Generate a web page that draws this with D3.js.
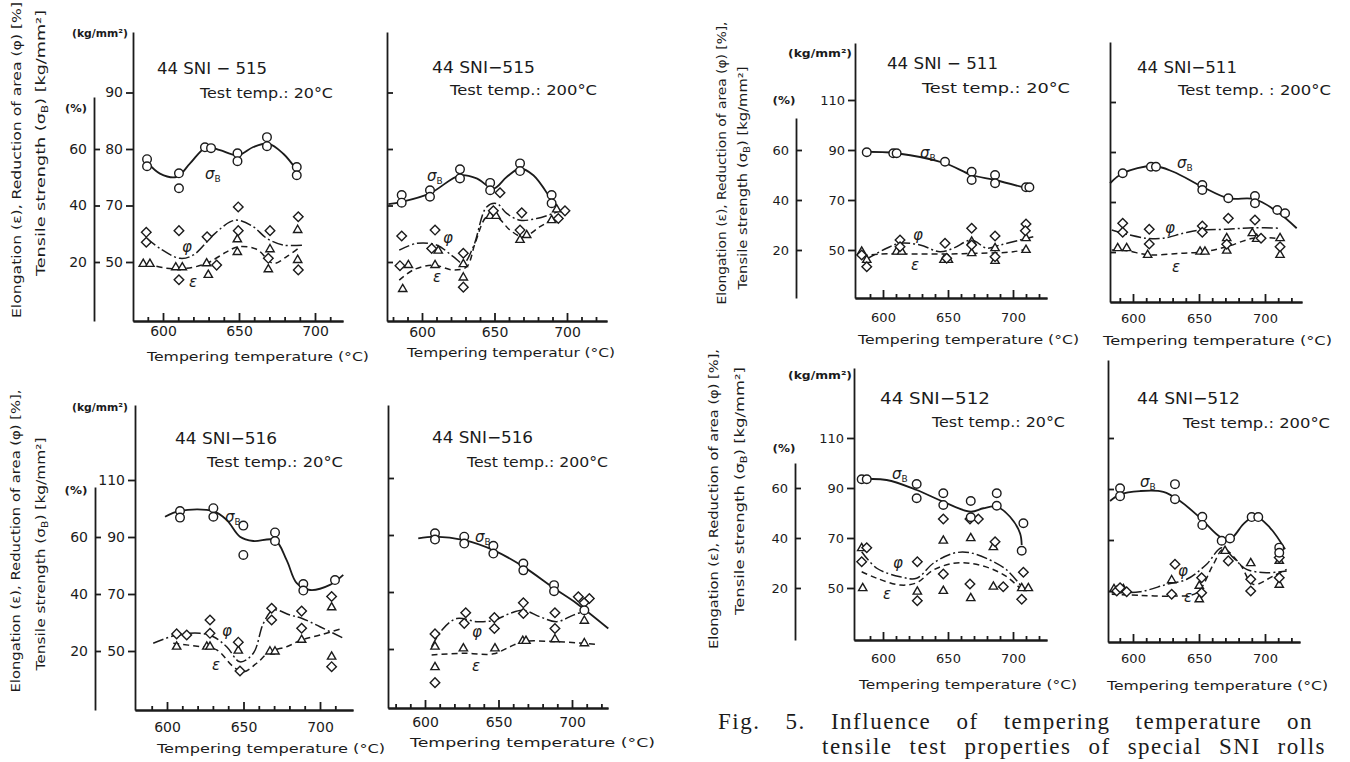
<!DOCTYPE html>
<html>
<head>
<meta charset="utf-8">
<script src="https://cdn.jsdelivr.net/npm/d3@7"></script>
<style>
  body { margin: 0; background: #fff; }
  svg { display: block; background: #fff; }
  text { font-family: "DejaVu Sans", "Liberation Sans", sans-serif; fill: #1b1b1b; }
  .axis path, .axis line { stroke: #1b1b1b; stroke-width: 1.8px; }
  .axis text { font-size: 14px; }
  .small .axis text { font-size: 13px; }
  .head { font-size: 16px; }
  .test { font-size: 14px; }
  .xtitle { font-size: 13px; }
  .ytitle { font-size: 13px; }
  .unit { font-size: 10px; font-weight: bold; }
  .sym { font-size: 15px; font-style: italic; }
  .sub { font-size: 9px; font-style: normal; }
  .sig { fill: none; stroke: #1b1b1b; stroke-width: 1.8px; }
  .phi { fill: none; stroke: #1b1b1b; stroke-width: 1.5px; stroke-dasharray: 11 3 2 3; }
  .eps { fill: none; stroke: #1b1b1b; stroke-width: 1.5px; stroke-dasharray: 6 4; }
  .mk { fill: #fff; stroke: #1b1b1b; stroke-width: 1.4px; }
  .caption { font-family: "Liberation Serif", "DejaVu Serif", serif; font-size: 23px; letter-spacing: 1.5px; }
</style>
</head>
<body>
<svg id="fig" width="1350" height="762"></svg>
<script>
// tick values shared by all panels
const kgTicks = [50, 70, 90, 110];
const pctTicks = [20, 40, 60];
const tempTicks = [600, 650, 700];
const kgLabels515 = ["50", "70", "80", "90"];
const kgLabels = ["50", "70", "90", "110"];

// [tempering temp (°C), value]; sigma in kg/mm2, phi and eps in %
// 44 SNI-515, test 20°C
const s515_20 = [[589.5,86.4],[589.5,83.9],[610.5,81.4],[610.5,76.1],[627.6,90.6],[631.6,90.3],[649,88.5],[649,85.7],[668.4,94.2],[668.4,91],[688,83.6],[688,80.7]];
const p515_20 = [[589,30.5],[589,27],[610.5,31.1],[610.5,13.7],[629,28.9],[635.3,18.9],[649.5,39.5],[649.5,31.1],[670.4,31.1],[669.3,21.3],[689,36],[689,17.2]];
const e515_20 = [[587,19.3],[591.4,19.3],[608.4,18.1],[612.7,18.1],[628.7,19.5],[629.8,15.4],[648.9,28],[648.9,23.5],[670.4,24.5],[669.3,17.4],[688.6,31.3],[688.6,20.7]];
const cs515_20 = [[590.3,84.9],[598,81.3],[609,80.1],[617.8,84.9],[628.7,90.7],[637.5,89.6],[649.5,87.8],[659.4,90.7],[669.3,91.9],[679,88.4],[688,82.5]];
const cp515_20 = [[589.3,28.4],[598,24.8],[611.2,21.3],[620,22.5],[633,29.5],[644.1,34.2],[649.5,34.8],[659.4,32.5],[668.2,28.4],[679.1,26],[692.3,26]];
const ce515_20 = [[589.3,19.3],[602.4,17.8],[615.6,17.8],[628.7,19.5],[641.9,23.6],[649.5,25.4],[661.6,24.5],[672.6,19.5],[681.4,21.9],[689,24.8]];

// 44 SNI-515, test 200°C
const s515_200 = [[586,73.7],[586,71],[605.5,75.4],[605.5,73.1],[626.2,82.8],[626.2,79.6],[647,78],[647,75.4],[667.6,84.9],[667.6,82.2],[689.4,73.7],[689.4,70.8]];
const p515_200 = [[586,29.2],[584.8,18.7],[609,31.3],[606.7,24.8],[628.5,23.1],[628.5,11.1],[653.8,44.5],[649.2,38.1],[668.8,37.4],[667.6,31.3],[694,35.4],[698.6,38.1]];
const e515_200 = [[590.6,18.9],[586.7,10.4],[611.2,24],[609,18.9],[628.5,19.2],[628.5,14.5],[647,36.3],[651,36.3],[667.6,27.8],[672.2,29.5],[689.4,34.8],[692.9,38.6]];
const cs515_200 = [[576.8,70.5],[586,71.3],[605.5,74.3],[626.2,80.7],[637.7,79.6],[649.2,76],[658.4,80.1],[667.6,83.1],[676.8,80.7],[689.4,71.9],[694,68.4]];
const cp515_200 = [[584.3,24.2],[596.3,26.6],[610.1,26],[621.6,21.9],[628.5,19.5],[635.4,25.4],[644.6,39.5],[651.5,40.7],[658.4,37.2],[667.6,34.8],[679.1,35.4],[690.6,37.2],[699.8,39]];
const ce515_200 = [[584.3,13.6],[594,17.2],[607.8,18.9],[621.6,17.2],[630.8,18.3],[636.6,26.6],[644.6,36],[651.5,36],[660.7,31.3],[669.9,28.9],[681.4,32.5],[692.9,36]];

// 44 SNI-516, test 20°C
const s516_20 = [[608.5,99.1],[608.5,96.8],[630.3,100.1],[630.3,97.1],[649.9,94],[649.9,83.7],[670.6,91.6],[670.6,88.6],[689.1,73.5],[689.1,71.2],[709.8,74.9]];
const p516_20 = [[606.3,26],[612.9,25.6],[628.1,30.9],[628.1,26.2],[646.6,23.1],[647.7,13],[668.4,35],[668.4,30.9],[688,34],[688,28],[707.6,39.1],[707.6,14.5]];
const e516_20 = [[606.3,21.5],[626,21.5],[628.1,21.5],[646.6,20.1],[667.3,19.8],[670.6,19.8],[688,23.9],[707.6,35.3],[707.6,18]];
const cs516_20 = [[598.7,97.1],[608.5,99.2],[630.3,99.1],[639,96],[647.7,90.1],[656.4,88.6],[670.6,88.9],[678.2,81.9],[684.8,73.8],[693.5,71.4],[706.5,73.2],[715.2,76.7]];
const cp516_20 = [[591,22.7],[606.3,25.6],[621.6,26.2],[630.3,25],[639,21.5],[647.7,16.2],[656.4,19.2],[663,29.7],[669.5,34.4],[680.4,32.6],[688,31.5],[700,28.5],[715.2,24.5]];
const ce516_20 = [[604.1,22.7],[621.6,21.5],[632.5,20.4],[643.3,14.5],[649.9,12.7],[658.6,15.7],[667.3,19.8],[678.2,21.5],[688,23.9],[700,25.6],[715.2,28]];

// 44 SNI-516, test 200°C
const s516_200 = [[606.8,90.6],[606.8,88.4],[626.7,89.4],[626.7,87],[646.5,86.2],[646.5,83.5],[666.9,80],[666.9,77.6],[687.8,72.4],[687.8,70.3],[708.4,63.6]];
const p516_200 = [[606.8,25.3],[606.8,8.2],[627.7,32.7],[626.7,29],[647.2,31],[647.2,27.2],[666.9,36.2],[666.9,32.5],[688.4,32.7],[688.4,27.2],[704.3,38.3],[711.8,37.7],[708.2,36.2]];
const e516_200 = [[606.8,20.8],[606.8,13.6],[626.1,20.2],[647.6,20.2],[666.5,22.8],[668.7,22.8],[688.4,23.4],[708.4,29.9],[708.4,22]];
const cs516_200 = [[595.4,88.8],[606.8,89.4],[626.7,88.2],[646.5,84.7],[666.9,78.9],[687.8,71.3],[703.2,66],[724.7,57.2]];
const cp516_200 = [[604.5,20.8],[611.4,26.6],[621.6,30.7],[635.2,29.6],[647,30.1],[657.8,32.5],[666.9,33.6],[678.2,31.3],[689.6,29.6],[700.9,31.9],[710,33.6]];
const ce516_200 = [[604.5,17.9],[626.1,18.5],[646.5,18.3],[657.8,20.8],[666.9,22.6],[688.4,22.6],[708.2,22],[715.6,21.7]];

// 44 SNI-511, test 20°C
const s511_20 = [[587.5,89.1],[607.9,88.7],[610.5,88.7],[647.7,85.3],[668.2,81.3],[668.2,78],[686.2,80],[686.2,76.7],[710,75.1],[712.6,75.1]];
const p511_20 = [[583.6,18],[587.5,13.3],[613.1,24],[613.1,21.3],[647.7,22.7],[649,16.7],[668.2,28.7],[668.2,22],[686.2,25.6],[686.2,17.3],[710,30.4],[709.5,27.7]];
const e511_20 = [[583.6,19.3],[587.5,16],[610.5,19.3],[614.4,19.3],[646.9,16],[650.3,16],[668.2,23.3],[668.2,18.7],[686.2,20.7],[686.2,15.6],[710,24.7],[710,20]];
const cs511_20 = [[584.9,89.3],[610.5,88.7],[647.7,84.7],[668.2,80],[686.2,78],[713.1,74.3]];
const cp511_20 = [[586.2,16],[602.8,20.7],[613.1,22.7],[628.5,22],[643.8,19.3],[654.1,20.7],[668.2,24],[679.8,20.7],[690,22],[705.4,24],[715.6,25.3]];
const ce511_20 = [[583.6,17.6],[597.7,18.4],[623.3,18.4],[649,18.4],[674.6,18.7],[700.3,19.3],[713.1,20.7]];

// 44 SNI-511, test 200°C
const s511_200 = [[592.2,81.5],[613.6,84.1],[617.4,84.1],[652.5,76.8],[652.5,74.8],[672.2,71.5],[692.4,72.4],[692.4,69.5],[709.3,66.8],[715.2,65.5]];
const p511_200 = [[592.2,31.5],[592.2,27.9],[612.3,29.1],[612.3,23.2],[652.5,30.4],[652.5,27.9],[672.2,33.5],[671,23.1],[692.4,32.8],[697,25.5],[711.4,22.1]];
const e511_200 = [[588.4,21.5],[595.2,21.5],[611.1,18.8],[650.8,20.1],[654.5,20.1],[671,25.5],[671,20.5],[690.4,27.5],[693.7,25.2],[711.4,25.5],[711.4,18.8]];
const cs511_200 = [[582.6,77.5],[592.2,81.5],[615.4,84.4],[630.5,82.1],[652.5,76.1],[672.2,71.5],[692.4,71.1],[709.3,66.1],[724,59.5]];
const cp511_200 = [[583.9,28.8],[592.2,27.5],[610.4,25.5],[623,25.5],[638.1,27.5],[650.8,28.8],[671,29.1],[691.1,29.7],[711.4,29.5]];
const ce511_200 = [[583.9,20.8],[595.2,20.5],[612.9,18.8],[635.6,19.5],[653.3,20.1],[671,22.1],[691.1,25.5],[708.6,25.5]];

// 44 SNI-512, test 20°C
const s512_20 = [[583.6,93.5],[587.5,93.5],[625.9,91.6],[625.9,85.9],[646.4,87.9],[646.4,83.2],[667.5,84.8],[667.5,78.3],[687.5,87.9],[687.5,82.9],[708,75.9],[706.7,64.9]];
const p512_20 = [[587.5,36.1],[583.6,30.5],[626.4,30.5],[626.4,14.9],[646.4,47.6],[646.4,25.6],[666.9,47.6],[673.3,47.6],[686.2,38.5],[666.9,21.6],[692.5,20.5],[708,26.3],[706.7,15.5]];
const e512_20 = [[583.6,35.9],[584.4,19.9],[626.4,18.5],[646.4,38.9],[646.4,18.8],[667.5,39.9],[667.5,15.9],[684.9,36.3],[684.9,20.5],[706.7,19.9],[711.8,19.9]];
const cs512_20 = [[584.9,93.5],[602.8,93.2],[625.9,89.2],[646.4,84.5],[667.5,80.5],[677.2,81.9],[687.5,82.5],[697.7,78.5],[705.4,71.9],[706.7,67.2]];
const cp512_20 = [[583.6,34.5],[595.2,27.9],[613.1,24.5],[625.9,23.9],[638.7,29.9],[654.1,33.9],[666.9,34.1],[682.3,31.2],[695.2,27.2],[706.7,20.5]];
const ce512_20 = [[583.6,26.5],[595.2,23.9],[613.1,21.2],[625.9,22.1],[638.7,27.2],[654.1,29.9],[666.9,29.9],[682.3,27.9],[695.2,24.5],[705.4,19.9]];

// 44 SNI-512, test 200°C
const s512_200 = [[590.2,90.3],[590.2,87.2],[631.8,91.9],[631.8,86],[652.5,79.1],[652.5,75.9],[667.2,69.7],[673.5,70.6],[689.9,79],[694.9,79],[710.8,67],[710.8,65]];
const p512_200 = [[587.7,20],[595.2,19.7],[590.2,21.3],[631.8,30.5],[629.3,18.7],[652,25.2],[652,19.3],[672.2,31.8],[689.2,24.6],[689.2,20],[710.8,33.1],[710.8,25.2]];
const e512_200 = [[585.6,20.7],[592.7,20.7],[629.3,24.2],[650.2,16.7],[650.2,22],[669.7,35.7],[689.2,30.9],[710.8,31.8],[710.8,22.4]];
const cs512_200 = [[582.6,85.3],[590.2,87.9],[605.3,89.2],[623,88.9],[635.6,85.3],[650.8,78.7],[667.2,70.9],[674.8,70.9],[683.6,76.2],[692.4,79.4],[703.8,74.8],[715.2,66.4]];
const cp512_200 = [[583.9,19.3],[605.3,19.7],[625.5,22.6],[640.7,24.6],[655.8,30.5],[667.2,37],[676,33.1],[686.1,28.5],[701.3,27.2],[716.4,27.8]];
const ce512_200 = [[583.9,18.7],[605.3,18.3],[630.5,18],[648.3,19.3],[660.9,30.5],[668.4,36.4],[681.1,30.5],[691.1,22.6],[706.3,25.9],[716.4,28.5]];

const yTitle1 = "Elongation (ε), Reduction of area (φ) [%],";
const captionLine1 = ["Fig.", "5.", "Influence", "of", "tempering", "temperature", "on"];
const captionLine2 = ["tensile", "test", "properties", "of", "special", "SNI", "rolls"];

// page layout of the eight panels
const panels = [
  { sig: s515_20, phi: p515_20, eps: e515_20, sigC: cs515_20, phiC: cp515_20, epsC: ce515_20,
    x600: 163, x700: 315, left: 133, right: 343, base: 321, top: 32, y20: 262, y60: 149,
    kgLabels: kgLabels515, pctX: 94, pctTop: 97, kgUnit: [100, 33, 56], pctUnit: [76, 108, 22],
    yt: [16, 160, 316, 40, 143, 266], yText: "Elongation (ε), Reduction of area (φ) [%]",
    xLabY: 331, xTitle: [147, 356, 222, "Tempering  temperature (°C)"],
    head: [157, 68, 110, "44 SNI − 515"], test: [200, 93, 133, "Test temp.: 20°C"],
    sigLab: [205, 174], phiLab: [187, 247], epsLab: [193, 282] },
  { sig: s515_200, phi: p515_200, eps: e515_200, sigC: cs515_200, phiC: cp515_200, epsC: ce515_200,
    x600: 422, x700: 567, left: 387, right: 607, base: 321, top: 32, y20: 262, y60: 149,
    xLabY: 332, xTitle: [407, 352, 208, "Tempering temperatur (°C)"],
    head: [432, 67, 103, "44 SNI−515"], test: [450, 90, 147, "Test temp.: 200°C"],
    sigLab: [427, 176], phiLab: [448, 238], epsLab: [437, 277] },
  { sig: s516_20, phi: p516_20, eps: e516_20, sigC: cs516_20, phiC: cp516_20, epsC: ce516_20,
    x600: 167, x700: 320, left: 135, right: 353, base: 710, top: 405, y20: 651, y60: 537,
    kgLabels: kgLabels, pctX: 95, pctTop: 487, kgUnit: [100, 407, 56], pctUnit: [76, 490, 23],
    yt: [15, 541, 303, 40, 554, 233], yText: yTitle1,
    xLabY: 727, xTitle: [157, 748, 228, "Tempering  temperature (°C)"],
    head: [175, 438, 102, "44 SNI−516"], test: [207, 462, 136, "Test temp.: 20°C"],
    sigLab: [225, 517], phiLab: [227, 631], epsLab: [216, 665] },
  { sig: s516_200, phi: p516_200, eps: e516_200, sigC: cs516_200, phiC: cp516_200, epsC: ce516_200,
    x600: 425, x700: 572, left: 388, right: 608, base: 708, top: 405, y20: 649, y60: 535,
    xLabY: 722, xTitle: [410, 742, 245, "Tempering temperature (°C)"],
    head: [432, 437, 101, "44 SNI−516"], test: [467, 462, 141, "Test temp.: 200°C"],
    sigLab: [475, 537], phiLab: [477, 632], epsLab: [476, 666] },
  { sig: s511_20, phi: p511_20, eps: e511_20, sigC: cs511_20, phiC: cp511_20, epsC: ce511_20, small: true,
    x600: 883, x700: 1013, left: 855, right: 1047, base: 298, top: 43, y20: 250, y60: 150,
    kgLabels: kgLabels, pctX: 796, pctTop: 118, kgUnit: [820, 53, 64], pctUnit: [784, 100, 23],
    yt: [721, 163, 283, 742, 178, 223], yText: yTitle1,
    xLabY: 317, xTitle: [858, 339, 221, "Tempering  temperature (°C)"],
    head: [887, 63, 111, "44 SNI − 511"], test: [922, 88, 148, "Test temp.: 20°C"],
    sigLab: [920, 153], phiLab: [918, 235], epsLab: [915, 265] },
  { sig: s511_200, phi: p511_200, eps: e511_200, sigC: cs511_200, phiC: cp511_200, epsC: ce511_200, small: true,
    x600: 1133, x700: 1265, left: 1110, right: 1302, base: 302, top: 42, y20: 252, y60: 152,
    xLabY: 318, xTitle: [1103, 340, 229, "Tempering temperature (°C)"],
    head: [1137, 67, 100, "44 SNI−511"], test: [1178, 90, 153, "Test temp. : 200°C"],
    sigLab: [1177, 163], phiLab: [1170, 228], epsLab: [1176, 267] },
  { sig: s512_20, phi: p512_20, eps: e512_20, sigC: cs512_20, phiC: cp512_20, epsC: ce512_20, small: true,
    x600: 883, x700: 1013, left: 854, right: 1047, base: 640, top: 368, y20: 588, y60: 488,
    kgLabels: kgLabels, pctX: 795, pctTop: 463, kgUnit: [820, 375, 64], pctUnit: [784, 448, 23],
    yt: [713, 499, 300, 739, 491, 248], yText: yTitle1,
    xLabY: 658, xTitle: [859, 684, 218, "Tempering temperature (°C)"],
    head: [880, 398, 110, "44 SNI−512"], test: [932, 422, 133, "Test temp.: 20°C"],
    sigLab: [892, 474], phiLab: [898, 563], epsLab: [887, 594] },
  { sig: s512_200, phi: p512_200, eps: e512_200, sigC: cs512_200, phiC: cp512_200, epsC: ce512_200, small: true,
    x600: 1133, x700: 1265, left: 1108, right: 1300, base: 642, top: 360, y20: 591, y60: 489,
    xLabY: 658, xTitle: [1107, 685, 221, "Tempering temperature (°C)"],
    head: [1137, 398, 103, "44 SNI−512"], test: [1183, 423, 147, "Test temp.: 200°C"],
    sigLab: [1140, 482], phiLab: [1183, 571], epsLab: [1188, 597] }
];

function addText(g, str, x, y, cls, len) {
    var t = g.append("text")
        .attr("class", cls)
        .attr("x", x)
        .attr("y", y)
        .attr("dy", "0.35em")
        .text(str);
    if (len) {
        t.attr("textLength", len).attr("lengthAdjust", "spacingAndGlyphs");
    }
    return t;
}

function addSigmaLabel(g, x, y, cls) {
    var t = g.append("text").attr("class", cls).attr("x", x).attr("y", y).attr("dy", "0.35em");
    t.append("tspan").text("σ");
    t.append("tspan").attr("class", "sub").attr("dy", 3).text("B");
    return t;
}

function drawPanel(svg, p) {
    var g = svg.append("g").attr("class", p.small ? "small" : "big");

    var x = d3.scaleLinear().domain([600, 700]).range([p.x600, p.x700]);
    var xAxisScale = d3.scaleLinear().domain([x.invert(p.left), x.invert(p.right)]).range([p.left, p.right]);
    var yPct = d3.scaleLinear().domain([20, 60]).range([p.y20, p.y60]);
    var yKg = d3.scaleLinear().domain([50, 90]).range([p.y20, p.y60]);
    var yKgAxis = d3.scaleLinear().domain([yKg.invert(p.base), yKg.invert(p.top)]).range([p.base, p.top]);

    // x axis: minor ticks every 10 °C, taller ones at the labelled values
    var minor = d3.range(580, 730, 10).filter(function(t) {
        return t % 50 !== 0 && xAxisScale(t) > p.left + 3 && xAxisScale(t) < p.right - 3;
    });
    g.append("g")
        .attr("class", "axis")
        .attr("transform", "translate(0," + p.base + ")")
        .call(d3.axisBottom(xAxisScale).tickValues(minor).tickSize(-4).tickSizeOuter(0).tickFormat(""));
    g.append("g")
        .attr("class", "axis")
        .attr("transform", "translate(0," + p.base + ")")
        .call(d3.axisBottom(xAxisScale).tickValues(tempTicks).tickSize(-8).tickSizeOuter(0).tickFormat(d3.format("d")))
        .selectAll("text")
        .attr("y", p.xLabY - p.base)
        .attr("dy", "0.35em");

    if (p.kgLabels) {
        g.append("g")
            .attr("class", "axis")
            .attr("transform", "translate(" + p.left + ",0)")
            .call(d3.axisLeft(yKgAxis).tickValues(kgTicks).tickSize(7).tickPadding(3).tickSizeOuter(0)
                .tickFormat(function(d, i) { return p.kgLabels[i]; }));

        var yPctAxis = d3.scaleLinear().domain([yPct.invert(p.base), yPct.invert(p.pctTop)]).range([p.base, p.pctTop]);
        g.append("g")
            .attr("class", "axis")
            .attr("transform", "translate(" + p.pctX + ",0)")
            .call(d3.axisLeft(yPctAxis).tickValues(pctTicks).tickSizeInner(-6).tickSizeOuter(0).tickPadding(7));

        addText(g, "(kg/mm²)", p.kgUnit[0], p.kgUnit[1], "unit", p.kgUnit[2]).attr("text-anchor", "middle");
        addText(g, "(%)", p.pctUnit[0], p.pctUnit[1], "unit", p.pctUnit[2]).attr("text-anchor", "middle");

        // rotated y title, two lines
        g.append("text")
            .attr("class", "ytitle")
            .attr("transform", "translate(" + p.yt[0] + "," + p.yt[1] + ") rotate(-90)")
            .attr("text-anchor", "middle")
            .attr("dy", "0.35em")
            .attr("textLength", p.yt[2])
            .attr("lengthAdjust", "spacingAndGlyphs")
            .text(p.yText);
        var t2 = g.append("text")
            .attr("class", "ytitle")
            .attr("transform", "translate(" + p.yt[3] + "," + p.yt[4] + ") rotate(-90)")
            .attr("text-anchor", "middle")
            .attr("dy", "0.35em")
            .attr("textLength", p.yt[5])
            .attr("lengthAdjust", "spacingAndGlyphs");
        t2.append("tspan").text("Tensile strength (σ");
        t2.append("tspan").attr("font-size", "9px").attr("dy", 3).text("B");
        t2.append("tspan").attr("dy", -3).text(") [kg/mm²]");
    } else {
        g.append("g")
            .attr("class", "axis")
            .attr("transform", "translate(" + p.left + ",0)")
            .call(d3.axisRight(yKgAxis).tickValues(kgTicks).tickSize(6).tickSizeOuter(0).tickFormat(""));
    }

    addText(g, p.xTitle[3], p.xTitle[0], p.xTitle[1], "xtitle", p.xTitle[2]);
    addText(g, p.head[3], p.head[0], p.head[1], "head", p.head[2]);
    addText(g, p.test[3], p.test[0], p.test[1], "test", p.test[2]);

    // fitted curves
    var curve = d3.curveCatmullRom.alpha(0.5);
    var pctLine = d3.line()
        .x(function(d) { return x(d[0]); })
        .y(function(d) { return yPct(d[1]); })
        .curve(curve);
    var kgLine = d3.line()
        .x(function(d) { return x(d[0]); })
        .y(function(d) { return yKg(d[1]); })
        .curve(curve);

    g.append("path").attr("class", "sig").attr("d", kgLine(p.sigC));
    g.append("path").attr("class", "phi").attr("d", pctLine(p.phiC));
    g.append("path").attr("class", "eps").attr("d", pctLine(p.epsC));

    // markers: triangles = elongation, diamonds = reduction of area, circles = tensile strength
    g.selectAll(".tri")
        .data(p.eps)
        .enter()
        .append("path")
        .attr("class", "mk")
        .attr("d", d3.symbol(d3.symbolTriangle, 30))
        .attr("transform", function(d) { return "translate(" + x(d[0]) + "," + yPct(d[1]) + ")"; });

    g.selectAll(".dia")
        .data(p.phi)
        .enter()
        .append("path")
        .attr("class", "mk")
        .attr("d", d3.symbol(d3.symbolSquare, 46))
        .attr("transform", function(d) { return "translate(" + x(d[0]) + "," + yPct(d[1]) + ") rotate(45)"; });

    g.selectAll(".circ")
        .data(p.sig)
        .enter()
        .append("circle")
        .attr("class", "mk")
        .attr("r", 4.3)
        .attr("cx", function(d) { return x(d[0]); })
        .attr("cy", function(d) { return yKg(d[1]); });

    addSigmaLabel(g, p.sigLab[0], p.sigLab[1], "sym");
    addText(g, "φ", p.phiLab[0], p.phiLab[1], "sym").attr("text-anchor", "middle");
    addText(g, "ε", p.epsLab[0], p.epsLab[1], "sym").attr("text-anchor", "middle");
}

function justifyLine(svg, words, x0, x1, y) {
    var t = svg.append("text").attr("class", "caption").attr("y", y).attr("dy", "0.35em");
    var spans = words.map(function(w) { return t.append("tspan").text(w); });
    var widths = spans.map(function(s) { return s.node().getComputedTextLength(); });
    var gap = (x1 - x0 - d3.sum(widths)) / (words.length - 1);
    var cx = x0;
    spans.forEach(function(s, i) {
        s.attr("x", cx);
        cx += widths[i] + gap;
    });
}

function main() {
    var svg = d3.select("#fig");
    panels.forEach(function(p) {
        drawPanel(svg, p);
    });
    justifyLine(svg, captionLine1, 718, 1313, 721);
    justifyLine(svg, captionLine2, 822, 1326, 746);
}

main();
</script>
</body>
</html>
